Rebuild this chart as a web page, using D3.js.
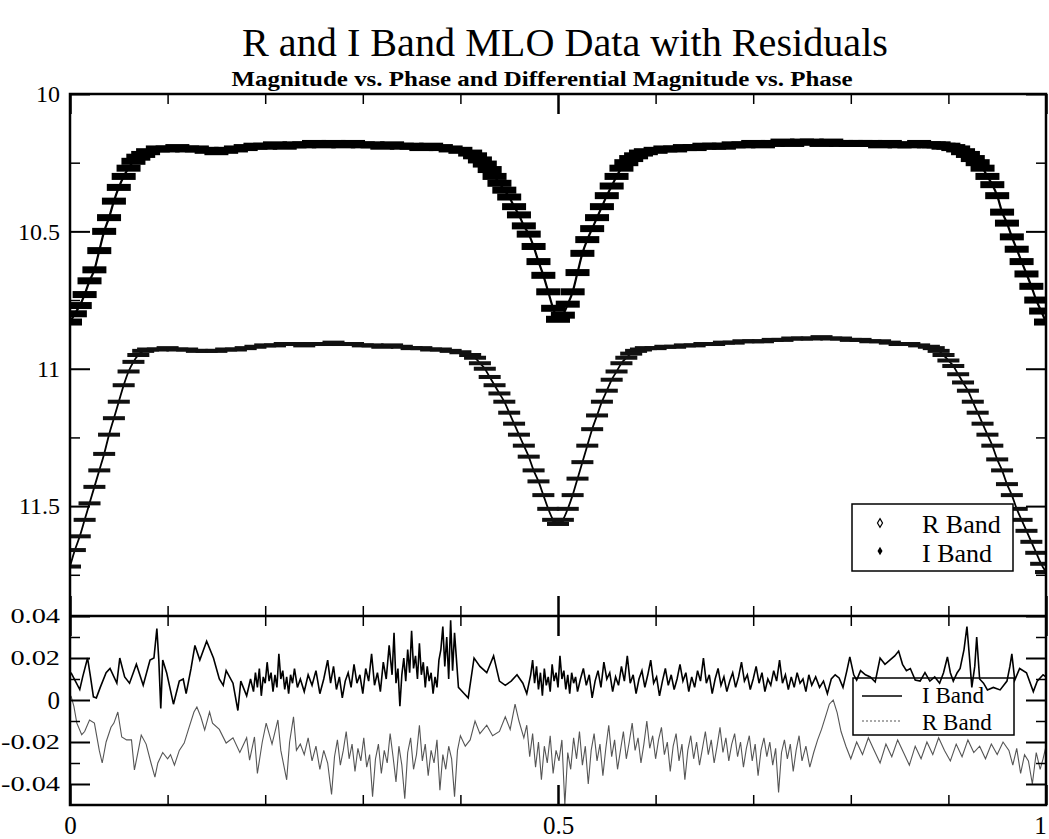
<!DOCTYPE html>
<html><head><meta charset="utf-8">
<script src="https://cdn.jsdelivr.net/npm/d3@7"></script>
<style>
body{margin:0;background:#fff}
svg{display:block;background:#fff}
text{font-family:"Liberation Serif","Times New Roman",serif;fill:#000}
</style>
</head><body>
<svg id="c" width="1049" height="839"></svg>
<script>
// ---------------- DATA ----------------
const phases=[0,0.005,0.01,0.015,0.02,0.025,0.03,0.035,0.04,0.045,0.05,0.055,0.06,0.065,0.07,0.075,0.08,
0.09,0.10,0.11,0.12,0.13,0.14,0.15,0.16,0.17,0.18,0.19,0.20,0.21,0.22,0.23,0.24,0.25,0.26,0.27,0.28,0.29,0.30,0.31,0.32,0.33,0.34,0.35,0.36,0.37,0.38,0.39,0.40,0.41,
0.415,0.42,0.425,0.43,0.435,0.44,0.445,0.45,0.455,0.46,0.465,0.47,0.475,0.48,0.485,0.49,0.495,0.50,0.505,0.51,0.515,0.52,0.525,0.53,0.535,0.54,0.545,0.55,0.555,0.56,0.565,0.57,0.575,0.58,0.585,
0.59,0.60,0.61,0.62,0.63,0.64,0.65,0.66,0.67,0.68,0.69,0.70,0.71,0.72,0.73,0.74,0.75,0.76,0.77,0.78,0.79,0.80,0.81,0.82,0.83,0.84,0.85,0.86,0.87,0.88,
0.885,0.89,0.895,0.90,0.905,0.91,0.915,0.92,0.925,0.93,0.935,0.94,0.945,0.95,0.955,0.96,0.965,0.97,0.975,0.98,0.985,0.99,0.995,1.0];

const iBandMag=[10.83,10.80,10.77,10.73,10.68,10.64,10.57,10.50,10.45,10.39,10.34,10.30,10.27,10.245,10.23,10.22,10.21,
10.20,10.20,10.195,10.20,10.2,10.205,10.21,10.205,10.2,10.195,10.19,10.19,10.185,10.19,10.185,10.185,10.18,10.185,10.18,10.185,10.18,10.185,10.185,10.19,10.185,10.19,10.19,10.195,10.19,10.195,10.20,10.205,10.215,
10.225,10.24,10.255,10.275,10.30,10.325,10.35,10.375,10.41,10.44,10.48,10.51,10.555,10.61,10.66,10.72,10.78,10.82,10.805,10.765,10.72,10.65,10.58,10.53,10.49,10.45,10.41,10.37,10.335,10.30,10.27,10.25,10.235,10.225,10.215,
10.21,10.205,10.20,10.20,10.195,10.195,10.19,10.19,10.19,10.185,10.185,10.18,10.185,10.18,10.175,10.18,10.175,10.175,10.18,10.175,10.18,10.18,10.18,10.18,10.185,10.18,10.185,10.185,10.18,10.185,
10.185,10.185,10.19,10.19,10.195,10.20,10.21,10.22,10.235,10.25,10.27,10.30,10.33,10.37,10.43,10.47,10.52,10.565,10.61,10.655,10.70,10.75,10.79,10.83];

const rBandMag=[11.72,11.66,11.61,11.55,11.49,11.43,11.37,11.31,11.24,11.18,11.12,11.06,11.01,10.975,10.95,10.935,10.93,
10.93,10.925,10.93,10.93,10.935,10.935,10.935,10.93,10.93,10.925,10.92,10.915,10.915,10.91,10.91,10.915,10.91,10.91,10.905,10.91,10.91,10.915,10.915,10.92,10.915,10.92,10.925,10.925,10.93,10.93,10.935,10.94,10.95,
10.96,10.98,11.00,11.03,11.06,11.09,11.12,11.16,11.20,11.24,11.28,11.32,11.37,11.41,11.46,11.51,11.55,11.565,11.55,11.51,11.46,11.40,11.34,11.28,11.22,11.17,11.12,11.08,11.04,11.01,10.98,10.96,10.945,10.935,10.93,
10.925,10.925,10.92,10.92,10.915,10.915,10.91,10.91,10.905,10.905,10.90,10.90,10.90,10.895,10.895,10.89,10.89,10.89,10.885,10.89,10.89,10.895,10.895,10.90,10.90,10.905,10.91,10.91,10.915,10.92,
10.925,10.935,10.95,10.97,10.99,11.02,11.05,11.08,11.12,11.16,11.20,11.24,11.28,11.33,11.37,11.42,11.46,11.51,11.55,11.59,11.63,11.67,11.71,11.74];

const iResid=[[0.001,0.013],[0.005,0.0095],[0.010,0.005],[0.013,0.011],[0.018,0.020],[0.021,0.011],[0.024,0.0015],[0.027,0.001],[0.031,0.006],[0.037,0.013],[0.041,0.015],[0.048,0.008],[0.051,0.020],[0.056,0.011],[0.061,0.008],[0.068,0.017],[0.075,0.007],[0.082,0.019],[0.086,0.020],[0.089,0.034],[0.091,0.019],[0.093,-0.004],[0.095,0.019],[0.099,0.013],[0.106,-0.002],[0.112,0.009],[0.116,0.010],[0.119,0.003],[0.124,0.015],[0.128,0.026],[0.133,0.019],[0.140,0.028],[0.147,0.020],[0.153,0.010],[0.157,0.007],[0.160,0.014],[0.167,0.008],[0.172,-0.005],[0.175,0.009],[0.181,0.002],[0.185,0.010],[0.188,0.004],[0.190,0.013],[0.192,0.006],[0.194,0.015],[0.196,0.002],[0.198,0.011],[0.200,0.008],[0.202,0.018],[0.204,0.009],[0.206,0.013],[0.208,0.004],[0.210,0.012],[0.212,0.006],[0.214,0.022],[0.216,0.010],[0.218,0.014],[0.220,0.005],[0.222,0.011],[0.224,0.003],[0.226,0.012],[0.228,0.008],[0.230,0.015],[0.233,0.006],[0.236,0.010],
[0.240,0.004],[0.244,0.012],[0.248,0.007],[0.252,0.014],[0.256,0.003],[0.260,0.010],[0.264,0.019],[0.267,0.008],[0.270,0.016],[0.273,0.005],[0.276,0.011],[0.279,0.001],[0.282,0.009],[0.285,0.013],[0.288,0.006],[0.291,0.017],[0.294,0.008],[0.297,0.012],[0.300,0.003],[0.303,0.015],[0.306,0.009],[0.309,0.022],[0.312,0.007],[0.315,0.013],[0.318,0.004],[0.321,0.018],[0.324,0.010],[0.327,0.026],[0.330,0.012],[0.332,0.032],[0.334,0.008],[0.336,0.015],[0.338,-0.003],[0.340,0.012],[0.342,0.020],[0.344,0.009],[0.346,0.024],[0.348,0.013],[0.350,0.033],[0.352,0.015],[0.354,0.021],[0.356,0.010],[0.358,0.027],[0.360,0.012],[0.362,0.018],[0.364,0.006],[0.366,0.016],[0.368,0.009],[0.370,0.013],[0.372,0.003],[0.374,0.011],[0.376,0.006],[0.378,0.019],[0.380,0.024],[0.382,0.035],[0.384,0.016],[0.386,0.030],[0.388,0.010],[0.390,0.038],[0.392,0.014],[0.394,0.032],[0.396,0.019],[0.398,0.006],[0.400,0.005],[0.404,0.003],[0.408,0.001],[0.414,0.020],[0.420,0.016],[0.427,0.013],[0.434,0.021],[0.440,0.009],[0.446,0.007],[0.452,0.009],[0.458,0.012],[0.464,0.008],[0.468,0.003],[0.472,0.012],[0.474,0.019],[0.476,0.008],[0.478,0.016],[0.480,0.005],[0.482,0.013],[0.484,0.002],[0.486,0.015],[0.488,0.007],[0.490,0.011],[0.492,0.004],[0.494,0.017],[0.496,0.009],[0.498,0.013],[0.500,0.006],[0.502,0.021],[0.504,0.010],[0.506,0.014],[0.508,0.005],[0.510,0.012],[0.512,0.003],[0.514,0.013],[0.516,0.008],[0.518,0.011],[0.520,0.004],[0.523,0.010],
[0.526,0.015],[0.529,0.007],[0.532,0.012],[0.535,0.001],[0.538,0.009],[0.541,0.014],[0.544,0.006],[0.547,0.018],[0.550,0.010],[0.553,0.013],[0.556,0.004],[0.559,0.011],[0.562,0.007],[0.565,0.016],[0.568,0.009],[0.571,0.021],[0.574,0.008],[0.577,0.012],[0.580,0.003],[0.583,0.010],[0.586,0.014],[0.589,0.006],[0.592,0.012],[0.595,0.019],[0.598,0.008],[0.601,0.011],[0.604,0.002],[0.607,0.009],[0.610,0.015],[0.613,0.007],[0.616,0.012],[0.619,0.005],[0.622,0.010],[0.625,0.017],[0.628,0.009],[0.631,0.013],[0.634,0.004],[0.637,0.011],[0.640,0.006],[0.643,0.014],[0.646,0.009],[0.649,0.020],[0.652,0.008],[0.655,0.012],[0.658,0.003],[0.661,0.010],[0.664,0.015],[0.667,0.007],[0.670,0.011],[0.673,0.004],[0.676,0.009],[0.679,0.013],[0.682,0.006],[0.685,0.011],[0.688,0.018],[0.691,0.009],[0.694,0.012],[0.697,0.005],[0.700,0.010],[0.703,0.016],[0.706,0.008],[0.709,0.013],[0.712,0.004],[0.715,0.010],[0.718,0.007],[0.721,0.014],[0.724,0.009],[0.727,0.019],[0.730,0.008],[0.733,0.012],[0.736,0.005],[0.739,0.011],[0.742,0.006],[0.745,0.013],[0.748,0.008],[0.751,0.010],[0.754,0.004],[0.757,0.012],[0.760,0.007],[0.764,0.011],[0.768,0.006],[0.772,0.009],[0.776,0.003],[0.780,0.010],[0.784,0.012],
[0.788,0.0105],[0.792,0.006],[0.796,0.014],[0.799,0.0205],[0.803,0.012],[0.806,0.0095],[0.810,0.014],[0.815,0.012],[0.820,0.011],[0.825,0.0086],[0.830,0.020],[0.835,0.017],[0.840,0.019],[0.845,0.021],[0.849,0.0233],[0.853,0.017],[0.857,0.014],[0.861,0.015],[0.866,0.0095],[0.871,0.009],[0.876,0.013],[0.881,0.009],[0.886,0.011],[0.891,0.008],[0.895,0.013],[0.899,0.0205],[0.902,0.013],[0.905,0.009],[0.909,0.013],[0.912,0.015],[0.916,0.024],[0.919,0.035],[0.922,0.018],[0.924,0.006],[0.927,0.016],[0.929,0.030],[0.932,0.010],[0.936,0.008],[0.940,0.0048],[0.946,0.006],[0.953,0.0048],[0.960,0.009],[0.963,0.016],[0.965,0.022],[0.968,0.0095],[0.973,0.015],[0.980,0.013],[0.987,0.004],[0.991,0.009],[0.997,0.012],[1.000,0.011]];

const rResid=[[0.001,0.002],[0.004,-0.003],[0.007,-0.011],[0.012,-0.0165],[0.015,-0.015],[0.020,-0.0095],[0.025,-0.011],[0.030,-0.024],[0.033,-0.030],[0.037,-0.020],[0.042,-0.013],[0.045,-0.011],[0.049,-0.0057],[0.053,-0.0176],[0.058,-0.019],[0.063,-0.019],[0.066,-0.0333],[0.070,-0.024],[0.073,-0.0167],[0.078,-0.021],[0.083,-0.030],[0.087,-0.0367],[0.090,-0.030],[0.095,-0.025],[0.100,-0.028],[0.103,-0.026],[0.107,-0.031],[0.112,-0.024],[0.117,-0.0205],[0.122,-0.013],[0.127,-0.0057],[0.130,-0.0033],[0.134,-0.008],[0.138,-0.0143],[0.143,-0.0057],[0.146,-0.011],[0.153,-0.014],[0.160,-0.0205],[0.167,-0.018],[0.174,-0.025],[0.181,-0.018],[0.184,-0.0286],[0.189,-0.0176],[0.192,-0.035],[0.197,-0.020],[0.201,-0.011],[0.207,-0.021],[0.213,-0.0095],[0.216,-0.024],[0.222,-0.038],[0.225,-0.020],[0.229,-0.008],[0.232,-0.024],[0.236,-0.021],
[0.240,-0.026],[0.244,-0.018],[0.248,-0.029],[0.252,-0.022],[0.256,-0.033],[0.260,-0.024],[0.264,-0.030],[0.268,-0.045],[0.271,-0.027],[0.274,-0.019],[0.277,-0.031],[0.280,-0.024],[0.283,-0.015],[0.286,-0.028],[0.289,-0.021],[0.292,-0.034],[0.295,-0.023],[0.298,-0.029],[0.301,-0.018],[0.304,-0.032],[0.307,-0.026],[0.310,-0.046],[0.313,-0.028],[0.316,-0.021],[0.319,-0.035],[0.322,-0.024],[0.325,-0.030],[0.328,-0.016],[0.331,-0.027],[0.334,-0.039],[0.337,-0.022],[0.340,-0.031],[0.343,-0.047],[0.346,-0.025],[0.349,-0.018],[0.352,-0.033],[0.355,-0.026],[0.358,-0.012],[0.361,-0.029],[0.364,-0.021],[0.367,-0.036],[0.370,-0.024],[0.373,-0.030],[0.376,-0.019],[0.379,-0.043],[0.382,-0.026],[0.385,-0.033],[0.388,-0.022],[0.391,-0.028],[0.394,-0.046],[0.397,-0.024],[0.400,-0.017],[0.405,-0.022],[0.410,-0.019],[0.415,-0.010],[0.420,-0.016],[0.427,-0.012],[0.433,-0.017],[0.440,-0.015],[0.446,-0.008],[0.451,-0.014],[0.456,-0.002],[0.460,-0.010],[0.465,-0.018],[0.468,-0.012],[0.471,-0.027],[0.474,-0.016],[0.477,-0.032],[0.480,-0.020],[0.483,-0.038],[0.486,-0.022],[0.489,-0.030],[0.492,-0.017],[0.495,-0.035],[0.498,-0.024],[0.501,-0.029],[0.504,-0.019],[0.507,-0.050],[0.510,-0.025],[0.513,-0.033],[0.516,-0.018],[0.519,-0.028],[0.522,-0.015],[0.525,-0.031],[0.528,-0.022],[0.531,-0.040],[0.534,-0.024],[0.537,-0.016],[0.540,-0.029],[0.543,-0.021],[0.546,-0.036],[0.549,-0.023],[0.552,-0.012],[0.555,-0.027],[0.558,-0.019],[0.561,-0.033],[0.564,-0.024],[0.567,-0.015],[0.570,-0.028],[0.573,-0.020],[0.576,-0.011],[0.579,-0.024],[0.582,-0.018],[0.585,-0.030],[0.588,-0.021],[0.591,-0.010],[0.594,-0.023],[0.597,-0.017],[0.600,-0.028],[0.603,-0.019],[0.606,-0.013],[0.609,-0.026],[0.612,-0.020],[0.615,-0.034],[0.618,-0.022],[0.621,-0.016],[0.624,-0.029],[0.627,-0.021],[0.630,-0.038],[0.633,-0.024],[0.636,-0.017],[0.639,-0.028],[0.642,-0.020],[0.645,-0.031],[0.648,-0.023],[0.651,-0.015],[0.654,-0.026],[0.657,-0.019],[0.660,-0.030],[0.663,-0.022],[0.666,-0.013],[0.669,-0.025],[0.672,-0.018],[0.675,-0.029],[0.678,-0.021],[0.681,-0.016],[0.684,-0.027],[0.687,-0.020],[0.690,-0.032],[0.693,-0.023],[0.696,-0.017],[0.699,-0.029],[0.702,-0.021],[0.705,-0.036],[0.708,-0.024],[0.711,-0.018],[0.714,-0.027],[0.717,-0.020],[0.720,-0.031],[0.723,-0.023],[0.726,-0.044],[0.729,-0.025],[0.732,-0.019],[0.735,-0.028],[0.738,-0.021],[0.741,-0.034],[0.744,-0.024],[0.747,-0.017],[0.750,-0.029],[0.754,-0.022],[0.758,-0.032],[0.762,-0.025],[0.766,-0.019],[0.770,-0.014],[0.774,-0.008],[0.778,-0.002],[0.782,0.000],[0.786,-0.006],[0.790,-0.015],[0.795,-0.022],[0.800,-0.028],[0.806,-0.020],[0.812,-0.026],[0.818,-0.018],[0.824,-0.024],[0.830,-0.030],[0.836,-0.021],[0.842,-0.027],[0.848,-0.019],[0.854,-0.025],[0.860,-0.031],[0.866,-0.022],[0.872,-0.028],[0.878,-0.020],[0.884,-0.026],[0.890,-0.018],[0.896,-0.024],[0.902,-0.029],[0.908,-0.021],[0.914,-0.027],[0.920,-0.019],[0.926,-0.025],[0.932,-0.022],[0.938,-0.028],[0.944,-0.021],[0.950,-0.026],[0.956,-0.020],[0.962,-0.024],[0.966,-0.031],[0.970,-0.023],[0.974,-0.035],[0.978,-0.026],[0.982,-0.029],[0.986,-0.040],[0.990,-0.025],[0.994,-0.033],[0.997,-0.028],[1.000,-0.022]];

const magTicks=[10,10.5,11,11.5];
const magMinor=[10.25,10.75,11.25,11.75];
const magLabels=["10","10.5","11","11.5"];
const resTicks=[0.04,0.02,0,-0.02,-0.04];
const resMinor=[0.03,0.01,-0.01,-0.03];
const resLabels=["0.04","0.02","0","-0.02","-0.04"];
const phaseTicks=[0,0.5,1];
const phaseMinor=[0.1,0.2,0.3,0.4,0.6,0.7,0.8,0.9];
const phaseLabels=["0","0.5","1"];
const titleText="R and I Band MLO Data with Residuals";
const subtitleText="Magnitude vs. Phase and Differential Magnitude vs. Phase";
const topLegend=["R Band","I Band"];
const resLegend=["I Band","R Band"];

// ---------------- CHART ----------------
const FONT='"Liberation Serif","Times New Roman",serif';
const svg=d3.select("#c");
const L=70,R=1046,T=94,M=616,B=805;
const x=d3.scaleLinear().domain([0,1]).range([L,R]);
const yMag=d3.scaleLinear().domain([10,11.9]).range([T,M]);
const yRes=d3.scaleLinear().domain([-0.05,0.04]).range([B,M]);

const defs=svg.append("defs");
defs.append("clipPath").attr("id","clipTop").append("rect").attr("x",L).attr("y",T).attr("width",R-L).attr("height",M-T);
defs.append("clipPath").attr("id","clipRes").append("rect").attr("x",L).attr("y",M).attr("width",R-L).attr("height",B-M);

// titles
svg.append("text").attr("x",565).attr("y",56).attr("text-anchor","middle").attr("font-family",FONT)
  .attr("font-size",41).attr("textLength",646).attr("lengthAdjust","spacingAndGlyphs").text(titleText);
svg.append("text").attr("x",542).attr("y",86).attr("text-anchor","middle").attr("font-weight","bold").attr("font-family",FONT)
  .attr("font-size",22).attr("textLength",621).attr("lengthAdjust","spacingAndGlyphs").text(subtitleText);

// light curves
const pts=phases.map((p,i)=>({p:p,i:iBandMag[i],r:rBandMag[i]}));
const gTop=svg.append("g").attr("clip-path","url(#clipTop)");
const lineI=d3.line().x(d=>x(d.p)).y(d=>yMag(d.i)).curve(d3.curveMonotoneX);
const lineR=d3.line().x(d=>x(d.p)).y(d=>yMag(d.r)).curve(d3.curveMonotoneX);
gTop.append("path").datum(pts).attr("d",lineI).attr("fill","none").attr("stroke","#000").attr("stroke-width",2.2);
gTop.append("path").datum(pts).attr("d",lineR).attr("fill","none").attr("stroke","#000").attr("stroke-width",1.8);
gTop.selectAll("rect.ri").data(pts).join("rect").attr("class","ri")
  .attr("x",d=>x(d.p)-12).attr("y",d=>yMag(d.i)-3.5).attr("width",24).attr("height",7).attr("fill","#000");
gTop.selectAll("rect.rr").data(pts).join("rect").attr("class","rr")
  .attr("x",d=>x(d.p)-11).attr("y",d=>yMag(d.r)-2).attr("width",22).attr("height",4).attr("fill","#111");

// residuals
const gRes=svg.append("g").attr("clip-path","url(#clipRes)");
const rl=d3.line().x(d=>x(d[0])).y(d=>yRes(d[1]));
gRes.append("path").datum(rResid).attr("d",rl).attr("fill","none").attr("stroke","#555").attr("stroke-width",1.1);
gRes.append("path").datum(iResid).attr("d",rl).attr("fill","none").attr("stroke","#000").attr("stroke-width",1.6);

// axes helper
function ax(gen,tx,ty,vals,size,labels,pad,fs,sw){
  const g=svg.append("g").attr("transform",`translate(${tx},${ty})`)
    .call(gen.tickValues(vals).tickSize(size).tickPadding(pad).tickFormat((d,i)=>labels?labels[i]:""));
  g.select(".domain").remove();
  g.attr("font-family",FONT);
  g.selectAll(".tick line").attr("stroke","#000").attr("stroke-width",sw);
  g.selectAll(".tick text").attr("font-size",fs).attr("font-family",FONT).attr("fill","#000");
  return g;
}
// top panel
ax(d3.axisLeft(yMag),L,0,magTicks,-20,magLabels,10,24,2);
ax(d3.axisLeft(yMag),L,0,magMinor,-10,null,10,24,1.5);
ax(d3.axisRight(yMag),R,0,magTicks,-20,null,10,24,2);
ax(d3.axisRight(yMag),R,0,magMinor,-10,null,10,24,1.5);
ax(d3.axisTop(x),0,T,phaseTicks,-20,null,10,24,2.5);
ax(d3.axisTop(x),0,T,phaseMinor,-10,null,10,24,1.5);
ax(d3.axisBottom(x),0,M,phaseTicks,-20,null,10,24,2.5);
ax(d3.axisBottom(x),0,M,phaseMinor,-10,null,10,24,1.5);
// residual panel
ax(d3.axisTop(x),0,M,phaseTicks,-20,null,10,24,2.5);
ax(d3.axisTop(x),0,M,phaseMinor,-10,null,10,24,1.5);
const gb=ax(d3.axisBottom(x),0,B,phaseTicks,-20,phaseLabels,11,25,2.5);
gb.selectAll(".tick text").filter((d,i)=>i===phaseLabels.length-1).attr("x",-6);
ax(d3.axisBottom(x),0,B,phaseMinor,-10,null,10,24,1.5);
const gl=ax(d3.axisLeft(yRes),L,0,resTicks,-20,resLabels,10,21,2);
gl.selectAll(".tick text").each(function(d,i){
  const t=d3.select(this);
  if(resLabels[i]==="0"){ t.attr("font-size",25); }
  else { t.attr("x",-10/1.35).attr("transform","scale(1.35,1)"); }
});
ax(d3.axisLeft(yRes),L,0,resMinor,-10,null,10,21,1.5);
ax(d3.axisRight(yRes),R,0,resTicks,-20,null,10,21,2);
ax(d3.axisRight(yRes),R,0,resMinor,-10,null,10,21,1.5);

// top legend
const lg=svg.append("g");
lg.append("rect").attr("x",852).attr("y",504).attr("width",161).attr("height",67).attr("fill","#fff").attr("stroke","#000").attr("stroke-width",1.5);
const dia=d3.symbol().type(d3.symbolDiamond).size(22);
lg.append("path").attr("d",dia).attr("transform","translate(880,523)").attr("fill","#fff").attr("stroke","#000").attr("stroke-width",1.2);
lg.append("path").attr("d",dia).attr("transform","translate(880,551)").attr("fill","#000");
lg.selectAll("text").data(topLegend).join("text").attr("x",922).attr("y",(d,i)=>533+i*29)
  .attr("font-family",FONT).attr("font-size",26).text(d=>d);

// residual legend
const rg=svg.append("g");
rg.append("rect").attr("x",853).attr("y",678).attr("width",161).attr("height",57).attr("fill","none").attr("stroke","#000").attr("stroke-width",1.5);
rg.append("line").attr("x1",862).attr("x2",902).attr("y1",696).attr("y2",696).attr("stroke","#000").attr("stroke-width",1.5);
rg.append("line").attr("x1",862).attr("x2",902).attr("y1",721).attr("y2",721).attr("stroke","#555").attr("stroke-width",1.1).attr("stroke-dasharray","2,2");
rg.selectAll("text").data(resLegend).join("text").attr("x",922).attr("y",(d,i)=>703+i*27)
  .attr("font-family",FONT).attr("font-size",23).text(d=>d);

// frame
svg.append("rect").attr("x",L).attr("y",T).attr("width",R-L).attr("height",B-T).attr("fill","none").attr("stroke","#000").attr("stroke-width",2.5);
svg.append("line").attr("x1",L).attr("x2",R).attr("y1",M).attr("y2",M).attr("stroke","#000").attr("stroke-width",2.5);
</script>
</body></html>
